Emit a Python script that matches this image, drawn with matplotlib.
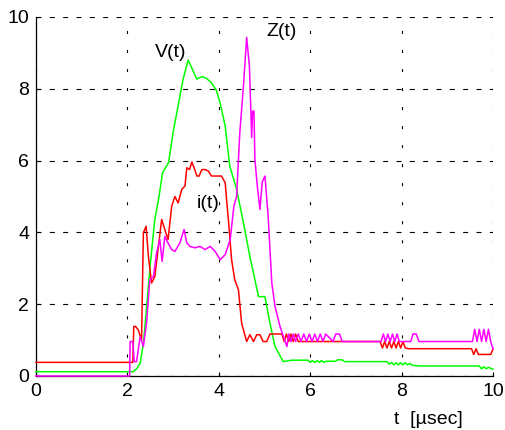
import matplotlib
matplotlib.use("Agg")
import matplotlib.pyplot as plt

plt.rcParams['font.family'] = ['Liberation Sans', 'DejaVu Sans']
plt.rcParams['lines.scale_dashes'] = False

# V(t) - green
t_v = [0, 2.13, 2.2, 2.28, 2.35, 2.42, 2.5, 2.6, 2.68, 2.77, 2.9, 3.0, 3.22, 3.33,
       3.42, 3.52, 3.63, 3.72, 3.84, 3.95, 4.03, 4.14, 4.24, 4.39, 4.54, 4.68,
       4.87, 5.01, 5.12, 5.23, 5.41, 5.6, 5.95, 6.0, 6.05, 6.1, 6.15, 6.2, 6.25,
       6.3, 6.35, 6.55, 6.6, 6.7, 6.75, 7.68, 7.73, 7.78, 7.83, 7.88, 7.93, 7.98,
       8.03, 8.08, 8.13, 8.18, 8.23, 8.3, 8.4, 9.7, 9.75, 9.8, 9.85, 9.9, 10.0]
v_vals = [0.12, 0.12, 0.2, 0.35, 0.9, 1.9, 3.1, 4.36, 4.9, 5.66, 5.94, 6.78, 8.27, 8.8,
          8.55, 8.27, 8.34, 8.3, 8.17, 7.95, 7.6, 6.96, 5.85, 5.2, 4.26, 3.33,
          2.21, 2.21, 1.47, 0.82, 0.4, 0.44, 0.44, 0.38, 0.43, 0.38, 0.43, 0.38, 0.43,
          0.38, 0.41, 0.41, 0.45, 0.45, 0.4, 0.4, 0.33, 0.38, 0.31, 0.37, 0.31, 0.37,
          0.31, 0.37, 0.31, 0.35, 0.3, 0.29, 0.28, 0.28, 0.2, 0.26, 0.2, 0.24, 0.19]

# i(t) - red
t_i = [0, 2.12, 2.14, 2.18, 2.24, 2.31, 2.35, 2.41, 2.46, 2.53, 2.60, 2.68, 2.75,
       2.82, 2.89, 2.97, 3.04, 3.11, 3.19, 3.26, 3.30, 3.36, 3.41, 3.46, 3.52,
       3.57, 3.63, 3.70, 3.77, 3.84, 4.06, 4.14, 4.17, 4.21, 4.28, 4.35, 4.43,
       4.50, 4.61, 4.68, 4.76, 4.83, 4.90, 4.97, 5.05, 5.12, 5.38, 5.43, 5.48,
       5.53, 5.58, 5.63, 5.68, 5.74, 7.53, 7.58, 7.63, 7.68, 7.73, 7.78, 7.83,
       7.88, 7.93, 7.98, 8.03, 8.08, 8.15, 9.53, 9.58, 9.63, 9.68, 9.73, 9.95, 10.0]
i_vals = [0.38, 0.38, 1.38, 1.38, 1.28, 1.0, 3.99, 4.17, 3.33, 2.59, 2.77, 3.61, 4.36,
          4.08, 3.8, 4.73, 5.0, 4.82, 5.2, 5.29, 5.8, 5.75, 5.96, 5.8, 5.57,
          5.57, 5.75, 5.75, 5.71, 5.57, 5.57, 5.38, 4.92, 4.36, 3.24, 2.68, 2.4,
          1.47, 0.96, 1.15, 0.96, 1.15, 1.15, 0.96, 0.96, 1.17, 1.17, 0.96, 1.17,
          0.96, 1.17, 0.96, 1.17, 0.96, 0.96, 0.78, 0.96, 0.78, 0.96, 0.78, 0.96,
          0.78, 0.96, 0.78, 0.96, 0.78, 0.76, 0.76, 0.6, 0.76, 0.6, 0.6, 0.6, 0.75]

# Z(t) - magenta
t_z = [0, 2.05, 2.06, 2.12, 2.15, 2.20, 2.28, 2.35, 2.42, 2.49, 2.57, 2.64, 2.71,
       2.76, 2.82, 2.87, 2.97, 3.04, 3.15, 3.24, 3.30, 3.37, 3.48, 3.59, 3.70,
       3.81, 3.92, 4.03, 4.14, 4.25, 4.33, 4.39, 4.46, 4.54, 4.61, 4.67, 4.72,
       4.74, 4.77, 4.79, 4.85, 4.90, 4.95, 5.01, 5.08, 5.16, 5.23, 5.34, 5.49,
       5.53, 5.58, 5.63, 5.68, 5.74, 5.8, 5.86, 5.92, 5.98, 6.04, 6.1, 6.16, 6.22,
       6.28, 6.34, 6.5, 6.56, 6.64, 6.7, 7.55, 7.6, 7.65, 7.7, 7.75, 7.8, 7.85, 7.9,
       7.95, 8.0, 8.2, 8.25, 8.32, 8.38, 9.55, 9.6, 9.65, 9.7, 9.75, 9.8, 9.85,
       9.9, 9.95, 10.0]
z_vals = [0, 0, 0.96, 0.96, 0.4, 0.4, 1.1, 0.82, 1.47, 2.68, 2.77, 3.43, 3.8,
          3.19, 3.89, 3.75, 3.52, 3.47, 3.71, 4.08, 3.71, 3.61, 3.57, 3.61, 3.52,
          3.61, 3.47, 3.24, 3.38, 3.8, 4.73, 5.0, 6.78, 8.08, 9.43, 8.64, 6.64,
          7.38, 7.38, 6.03, 5.2, 4.64, 5.4, 5.57, 4.45, 2.59, 1.94, 1.38, 0.82,
          1.17, 0.96, 1.17, 0.96, 1.17, 0.96, 1.17, 0.96, 1.17, 0.96, 1.17, 0.96, 1.17,
          0.96, 1.17, 0.96, 1.17, 1.17, 0.96, 0.96, 1.17, 0.96, 1.17, 0.96, 1.17, 0.96, 1.17,
          0.96, 0.96, 0.96, 1.17, 1.17, 0.96, 0.96, 1.3, 0.96, 1.3, 0.96, 1.3, 0.96,
          1.3, 0.96, 0.75]

x_ticks = [0, 2, 4, 6, 8, 10]
y_ticks = [0, 2, 4, 6, 8, 10]

fig = plt.figure(figsize=(5.06, 4.30), dpi=100)
ax = fig.add_axes([0.0711, 0.1256, 0.9032, 0.8349])

ax.plot(t_v, v_vals, color='#00ff00', lw=1.1, clip_on=False, zorder=3)
ax.plot(t_i, i_vals, color='#ff0000', lw=1.1, clip_on=False, zorder=3)
ax.plot(t_z, z_vals, color='#ff00ff', lw=1.1, clip_on=False, zorder=3)

ax.set_xlim(0, 10)
ax.set_ylim(0, 10)
ax.set_xticks(x_ticks)
ax.set_yticks(y_ticks)
ax.tick_params(direction='in', length=3, width=0.8, labelsize=14)
ax.tick_params(axis='x', pad=5)
ax.tick_params(axis='y', pad=5)

ax.spines['top'].set_visible(False)
ax.spines['right'].set_visible(False)
ax.spines['left'].set_linewidth(0.9)
ax.spines['bottom'].set_linewidth(0.9)

ax.xaxis.grid(True, color='k', lw=0.8, linestyle=(0, (2.2, 11.5)))
ax.yaxis.grid(True, color='k', lw=0.8, linestyle=(0, (3.6, 6.0)))
ax.set_axisbelow(True)

ax.text(2.6, 9.0, 'V(t)', fontsize=14, va='center', ha='left')
ax.text(5.05, 9.6, 'Z(t)', fontsize=14, va='center', ha='left')
ax.text(3.52, 4.8, 'i(t)', fontsize=14, va='center', ha='left')

fig.text(463 / 506, 1 - 419 / 430, 't  [\u00b5sec]', fontsize=14, ha='right', va='center')

fig.savefig('out.png', dpi=100)
